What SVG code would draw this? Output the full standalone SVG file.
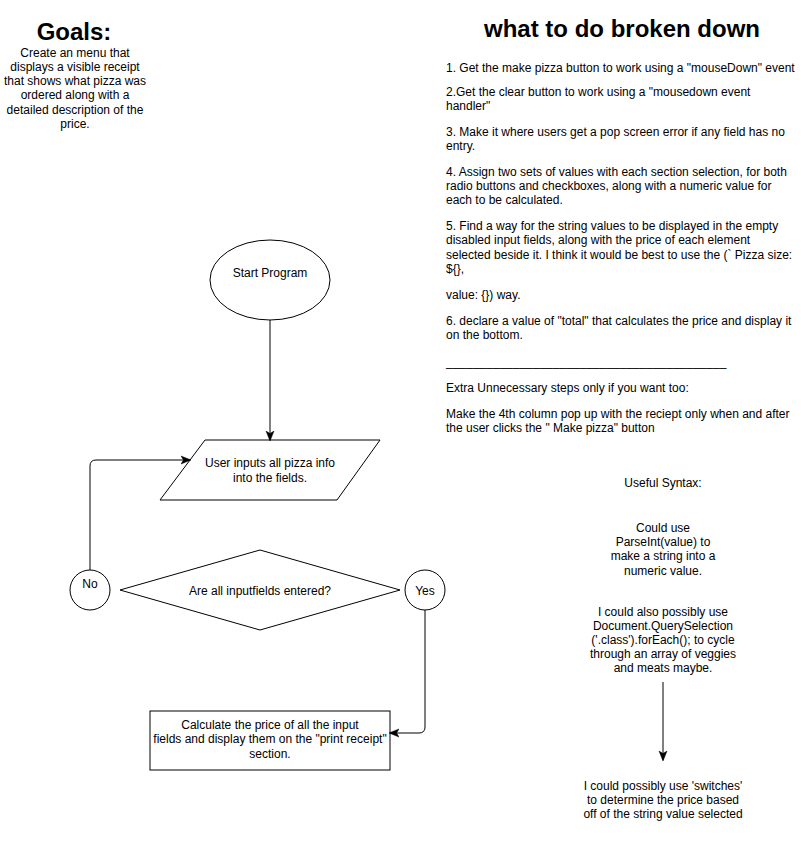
<svg xmlns="http://www.w3.org/2000/svg" width="801" height="841" viewBox="0 0 801 841">
<defs>
<style>
text{font-family:"Liberation Sans",Arial,Helvetica,sans-serif;font-size:12px;fill:#000}
.c{text-anchor:middle}
.h{font-size:24px;font-weight:bold}
.shape{fill:#fff;stroke:#000;stroke-width:1}
.edge{fill:none;stroke:#000;stroke-width:1}
</style>
<marker id="arr" viewBox="0 0 10 10" refX="9" refY="5" markerWidth="10" markerHeight="10" markerUnits="userSpaceOnUse" orient="auto">
<path d="M0,1 L10,5 L0,9 L2.5,5 Z" fill="#000" stroke="#000" stroke-width="0.5"/>
</marker>
</defs>
<rect width="801" height="841" fill="#fff"/>

<g id="goals">
<text class="c h" x="74" y="40">Goals:</text>
<text class="c" x="75" y="57">Create an menu that</text>
<text class="c" x="75" y="71">displays a visible receipt</text>
<text class="c" x="75" y="85">that shows what pizza was</text>
<text class="c" x="75" y="99">ordered along with a</text>
<text class="c" x="75" y="114">detailed description of the</text>
<text class="c" x="75" y="128">price.</text>
</g>

<g id="steps">
<text class="c h" x="622" y="37">what to do broken down</text>
<text x="446" y="72">1. Get the make pizza button to work using a "mouseDown" event</text>
<text x="446" y="96">2.Get the clear button to work using a "mousedown event</text>
<text x="446" y="110">handler"</text>
<text x="446" y="136">3. Make it where users get a pop screen error if any field has no</text>
<text x="446" y="150">entry.</text>
<text x="446" y="176">4. Assign two sets of values with each section selection, for both</text>
<text x="446" y="190">radio buttons and checkboxes, along with a numeric value for</text>
<text x="446" y="204">each to be calculated.</text>
<text x="446" y="230">5. Find a way for the string values to be displayed in the empty</text>
<text x="446" y="244">disabled input fields, along with the price of each element</text>
<text x="446" y="259">selected beside it. I think it would be best to use the (` Pizza size:</text>
<text x="446" y="273">${},</text>
<text x="446" y="299">value: {}) way.</text>
<text x="446" y="325">6. declare a value of "total" that calculates the price and display it</text>
<text x="446" y="339">on the bottom.</text>
<text x="446" y="366">__________________________________________</text>
<text x="446" y="392">Extra Unnecessary steps only if you want too:</text>
<text x="446" y="418">Make the 4th column pop up with the reciept only when and after</text>
<text x="446" y="432">the user clicks the " Make pizza" button</text>
</g>

<g id="useful-syntax">
<text class="c" x="663" y="487">Useful Syntax:</text>
</g>
<g id="parseint-note">
<text class="c" x="663" y="532">Could use</text>
<text class="c" x="663" y="546">ParseInt(value) to</text>
<text class="c" x="663" y="560">make a string into a</text>
<text class="c" x="663" y="575">numeric value.</text>
</g>
<g id="queryselection-note">
<text class="c" x="663" y="616">I could also possibly use</text>
<text class="c" x="663" y="630">Document.QuerySelection</text>
<text class="c" x="663" y="644">('.class').forEach(); to cycle</text>
<text class="c" x="663" y="658">through an array of veggies</text>
<text class="c" x="663" y="672">and meats maybe.</text>
</g>
<g id="switches-note">
<text class="c" x="663" y="790">I could possibly use 'switches'</text>
<text class="c" x="663" y="804">to determine the price based</text>
<text class="c" x="663" y="818">off of the string value selected</text>
</g>

<g id="start">
<ellipse class="shape" cx="270" cy="280" rx="60" ry="40"/>
<text class="c" x="270" y="277">Start Program</text>
</g>

<g id="input">
<polygon class="shape" points="205,440 380,440 337,500 160,500"/>
<text class="c" x="270" y="467">User inputs all pizza info</text>
<text class="c" x="270" y="482">into the fields.</text>
</g>

<g id="decision">
<polygon class="shape" points="260,550 400,590 260,630 120,590"/>
<text class="c" x="260" y="595">Are all inputfields entered?</text>
</g>

<g id="no">
<circle class="shape" cx="90" cy="590" r="20"/>
<text class="c" x="90" y="588">No</text>
</g>

<g id="yes">
<circle class="shape" cx="425" cy="590" r="20"/>
<text class="c" x="425" y="595">Yes</text>
</g>

<g id="calculate">
<rect class="shape" x="150" y="711" width="240" height="59"/>
<text class="c" x="270" y="729">Calculate the price of all the input</text>
<text class="c" x="270" y="743">fields and display them on the "print receipt"</text>
<text class="c" x="270" y="758">section.</text>
</g>

<g id="connectors">
<path class="edge" d="M270,320 L270,440" marker-end="url(#arr)"/>
<path class="edge" d="M90,570 L90,466 Q90,460 96,460 L190,460" marker-end="url(#arr)"/>
<path class="edge" d="M425,610 L425,727 Q425,733 419,733 L390,733" marker-end="url(#arr)"/>
<path class="edge" d="M663,682 L663,760" stroke="#333" marker-end="url(#arr)"/>
</g>
</svg>
